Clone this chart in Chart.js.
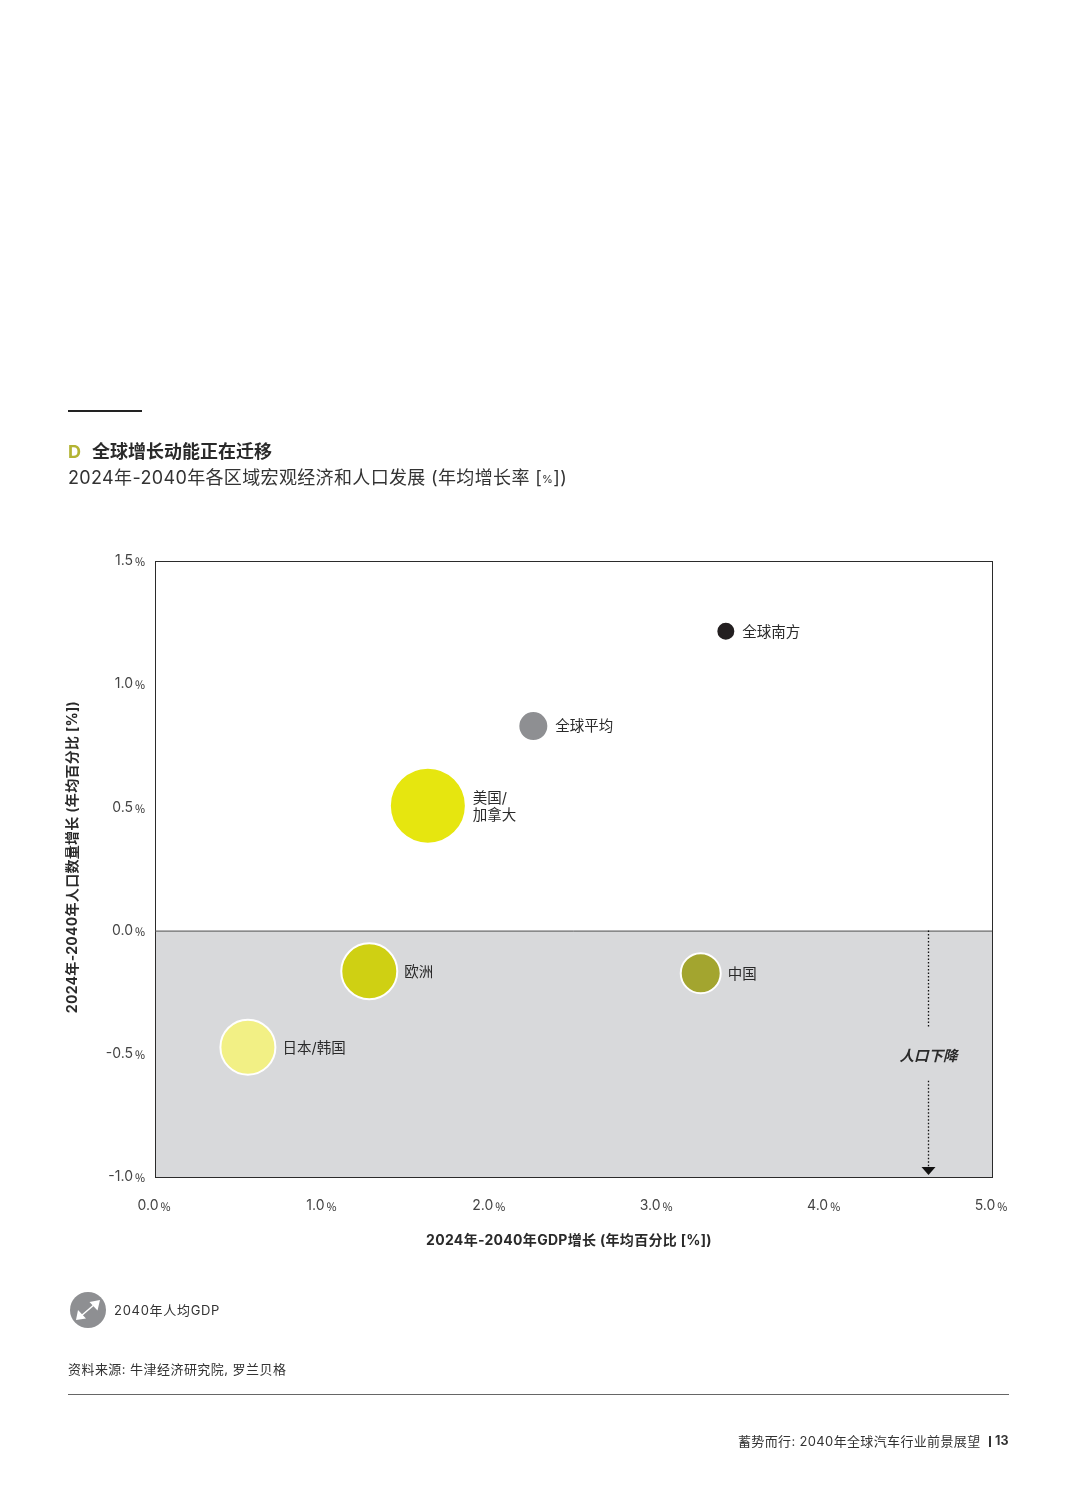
<!DOCTYPE html>
<html lang="zh-CN">
<head>
    <meta charset="UTF-8">
    <title>全球增长动能正在迁移</title>
    <script src="https://cdn.jsdelivr.net/npm/chart.js"></script>
    <style>
        html, body { margin: 0; padding: 0; background: #fff; }
        body { position: relative; width: 1077px; height: 1502px; overflow: hidden; font-family: Inter, "Noto Sans CJK SC", sans-serif; color: #2a2a2a; }
        canvas { position: absolute; left: 0; top: 0; }
        .t { position: absolute; white-space: nowrap; line-height: 1; }
        .rule { position: absolute; }
    </style>
</head>
<body>
    <canvas id="chart" width="1077" height="1502"></canvas>

    <div class="rule" style="left:68px;top:410px;width:74px;height:2px;background:#222"></div>
    <div class="t" style="left:68px;top:443px;font-size:18px;font-weight:700"><span style="color:#b3b433;margin-right:11px">D</span>全球增长动能正在迁移</div>
    <div class="t" style="left:68px;top:469px;font-size:18px;letter-spacing:.35px;color:#333">2024年-2040年各区域宏观经济和人口发展 (年均增长率 [<span style="font-size:11px;vertical-align:1px">%</span>])</div>

    <svg style="position:absolute;left:70px;top:1292px" width="36" height="36" viewBox="0 0 36 36">
        <circle cx="18" cy="18" r="18" fill="#8e8f92"/>
        <path d="M11 24 L25 12" stroke="#fff" stroke-width="1.5"/>
        <path d="M30 8 L27.5 18.5 L19.5 10 Z M6 28 L8 18 L16 26.5 Z" fill="#fff"/>
    </svg>
    <div class="t" style="left:114px;top:1304px;font-size:13px;letter-spacing:.7px;color:#333">2040年人均GDP</div>
    <div class="t" style="left:68px;top:1363px;font-size:13px;letter-spacing:.45px;color:#333">资料来源: 牛津经济研究院, 罗兰贝格</div>
    <div class="rule" style="left:68px;top:1394px;width:941px;height:1px;background:#666"></div>
    <div class="t" style="left:738px;top:1435px;font-size:13px;letter-spacing:.35px;color:#333">蓄势而行: 2040年全球汽车行业前景展望</div>
    <div class="rule" style="left:989px;top:1436px;width:1.5px;height:11px;background:#333"></div>
    <div class="t" style="left:995px;top:1435px;font-size:12.5px;font-weight:700;color:#333">13</div>

    <script>
        const regions = ['全球南方', '全球平均', '美国/\n加拿大', '欧洲', '中国', '日本/韩国'];
        const gdpGrowth = [3.41, 2.26, 1.63, 1.28, 3.26, 0.555];
        const popGrowth = [1.215, 0.83, 0.507, -0.165, -0.173, -0.473];
        const gdpPerCapita = [9.5, 15, 38, 28, 20, 27.5];
        const colors = ['#231f20', '#8e8f92', '#e6e60f', '#cfd013', '#a3a52f', '#f2f085'];
        const xTicks = [0, 1, 2, 3, 4, 5];
        const yTicks = [-1, -0.5, 0, 0.5, 1, 1.5];
        const declineX = 4.62;

        const fontFamily = 'Inter, "Noto Sans CJK SC", sans-serif';

        // 灰色区域 + 边框
        const backdrop = {
            id: 'backdrop',
            beforeDatasetsDraw(chart) {
                const { ctx, chartArea: a, scales } = chart;
                const zero = scales.y.getPixelForValue(0);
                ctx.save();
                ctx.fillStyle = '#d8d9db';
                ctx.fillRect(a.left, zero, a.right - a.left, a.bottom - zero);
                ctx.strokeStyle = '#2b2b2b';
                ctx.lineWidth = 1;
                ctx.strokeRect(a.left + 0.5, a.top + 0.5, a.right - a.left, a.bottom - a.top);
                ctx.strokeStyle = '#555';
                ctx.beginPath();
                ctx.moveTo(a.left, zero + 0.5);
                ctx.lineTo(a.right, zero + 0.5);
                ctx.stroke();
                ctx.restore();
            }
        };

        // 气泡标签、轴标题 + 人口下降箭头
        const labels = {
            id: 'labels',
            afterDatasetsDraw(chart) {
                const { ctx, chartArea: a, scales } = chart;
                const points = chart.getDatasetMeta(0).data;
                ctx.save();
                ctx.fillStyle = '#2a2a2a';
                ctx.font = '14.5px ' + fontFamily;
                ctx.textAlign = 'left';
                ctx.textBaseline = 'middle';
                points.forEach((p, i) => {
                    const lines = regions[i].split('\n');
                    lines.forEach((line, j) => {
                        ctx.fillText(line, p.x + gdpPerCapita[i] + 7, p.y + 1 + (j - (lines.length - 1) / 2) * 17);
                    });
                });

                ctx.font = 'bold 14px ' + fontFamily;
                ctx.letterSpacing = '0.3px';
                ctx.textAlign = 'center';
                ctx.fillText('2024年-2040年GDP增长 (年均百分比 [%])', 569, 1241);
                ctx.save();
                ctx.translate(73, 857);
                ctx.rotate(-Math.PI / 2);
                ctx.fillText('2024年-2040年人口数量增长 (年均百分比 [%])', 0, 0);
                ctx.restore();
                ctx.letterSpacing = '0px';

                const x = Math.round(scales.x.getPixelForValue(declineX)) + 0.5;
                const zero = scales.y.getPixelForValue(0);
                const mid = (zero + a.bottom) / 2;
                ctx.strokeStyle = '#111';
                ctx.lineWidth = 1.3;
                ctx.setLineDash([1.5, 2]);
                ctx.beginPath();
                ctx.moveTo(x, zero);
                ctx.lineTo(x, mid - 26);
                ctx.moveTo(x, mid + 27);
                ctx.lineTo(x, a.bottom - 8);
                ctx.stroke();
                ctx.setLineDash([]);
                ctx.fillStyle = '#111';
                ctx.beginPath();
                ctx.moveTo(x - 7, a.bottom - 10);
                ctx.lineTo(x + 7, a.bottom - 10);
                ctx.lineTo(x, a.bottom - 2);
                ctx.closePath();
                ctx.fill();

                ctx.fillStyle = '#2a2a2a';
                ctx.font = 'italic 700 14.5px ' + fontFamily;
                ctx.textAlign = 'center';
                ctx.fillText('人口下降', x, mid + 3);
                ctx.restore();
            }
        };

        new Chart(document.getElementById('chart'), {
            type: 'bubble',
            data: {
                datasets: [{
                    data: regions.map((name, i) => ({ x: gdpGrowth[i], y: popGrowth[i], r: gdpPerCapita[i] })),
                    backgroundColor: colors,
                    borderColor: '#fff',
                    borderWidth: 2,
                    clip: false
                }]
            },
            options: {
                responsive: false,
                animation: false,
                layout: { padding: { left: 60, top: 561, right: 85, bottom: 253 } },
                plugins: { legend: { display: false }, tooltip: { enabled: false } },
                scales: {
                    x: {
                        type: 'linear',
                        min: 0,
                        max: 5,
                        afterBuildTicks(scale) { scale.ticks = xTicks.map(v => ({ value: v })); },
                        afterFit(scale) { scale.height = 72; },
                        grid: { display: false },
                        border: { display: false },
                        ticks: {
                            padding: 12,
                            maxRotation: 0,
                            color: '#444',
                            font: { family: fontFamily, size: 14 },
                            callback: v => v.toFixed(1) + '﹪'
                        }
                    },
                    y: {
                        type: 'linear',
                        min: -1,
                        max: 1.5,
                        afterBuildTicks(scale) { scale.ticks = yTicks.map(v => ({ value: v })); },
                        afterFit(scale) { scale.width = 95; },
                        grid: { display: false },
                        border: { display: false },
                        ticks: {
                            padding: 0,
                            color: '#444',
                            font: { family: fontFamily, size: 14 },
                            callback: v => v.toFixed(1) + '﹪'
                        }
                    }
                }
            },
            plugins: [backdrop, labels]
        });
    </script>
</body>
</html>
